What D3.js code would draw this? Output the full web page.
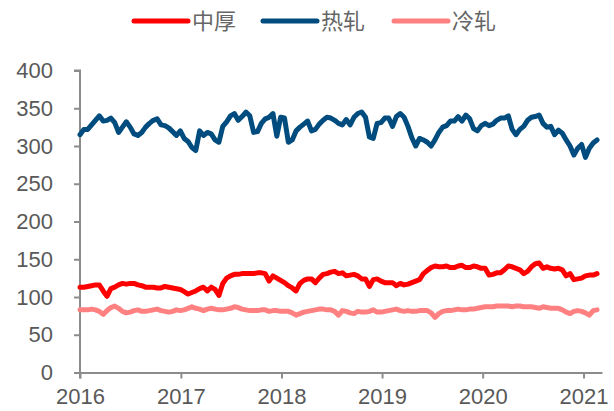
<!DOCTYPE html>
<html>
<head>
<meta charset="utf-8">
<script src="https://cdn.jsdelivr.net/npm/d3@7"></script>
<style>
  body { margin: 0; background: #fff; }
  svg { display: block; }
  .tick text { font-family: "Liberation Sans", Arial, sans-serif; }
</style>
</head>
<body>
<svg id="chart"></svg>
<script>
// Bi-weekly readings, starting first week of 2016
const startDate = new Date(2016, 0, 1);
const stepDays = 14;

const seriesNames = ["中厚", "热轧", "冷轧"];
const seriesColors = ["#ff0000", "#004c7e", "#ff8080"];

const zhonghou = [
  113, 113, 114, 115, 116, 116, 108, 101, 111, 113, 116, 118, 117, 118, 118, 116, 115, 113, 113, 113,
  112, 112, 114, 113, 112, 111, 110, 107, 104, 106, 108, 111, 113, 108, 113, 110, 102, 118, 125, 128,
  130, 130, 131, 131, 131, 131, 132, 132, 131, 121, 128, 125, 122, 119, 115, 112, 108, 118, 122, 124,
  124, 119, 125, 130, 131, 133, 134, 131, 132, 128, 129, 130, 128, 124, 124, 114, 123, 124, 121, 119,
  119, 119, 115, 118, 116, 117, 119, 121, 123, 131, 135, 139, 141, 140, 140, 141, 139, 139, 141, 142,
  139, 139, 141, 140, 138, 138, 129, 130, 132, 132, 136, 141, 140, 138, 136, 131, 134, 140, 144, 145,
  138, 140, 138, 137, 138, 136, 128, 131, 123, 124, 125, 128, 129, 129, 131
];

const rezha = [
  315, 322, 322, 328, 334, 340, 333, 334, 337, 331, 318, 325, 332, 325, 316, 314, 318, 325, 330, 334,
  336, 328, 327, 324, 319, 314, 320, 310, 306, 298, 294, 320, 314, 318, 316, 308, 305, 326, 332, 340,
  343, 334, 339, 345, 340, 318, 319, 330, 336, 338, 343, 313, 338, 337, 305, 308, 320, 325, 329, 333,
  320, 322, 329, 334, 338, 337, 334, 330, 328, 335, 328, 338, 343, 345, 338, 312, 310, 330, 331, 337,
  337, 326, 339, 343, 338, 326, 311, 300, 310, 308, 305, 300, 308, 318, 325, 327, 333, 333, 339, 333,
  341, 336, 323, 320, 327, 330, 327, 329, 334, 337, 337, 340, 322, 315, 322, 326, 334, 338, 339, 341,
  330, 325, 326, 315, 321, 317, 308, 300, 288, 297, 302, 285, 297, 304, 308
];

const lengzha = [
  83, 83, 83, 84, 83, 81, 77, 82, 86, 88, 85, 81, 79, 80, 82, 83, 81, 81, 82, 83,
  84, 82, 81, 80, 81, 83, 82, 83, 85, 87, 85, 84, 82, 84, 85, 84, 83, 83, 84, 85,
  87, 86, 84, 83, 82, 82, 82, 83, 83, 81, 82, 82, 81, 81, 81, 79, 76, 78, 80, 81,
  82, 83, 84, 84, 83, 83, 81, 76, 82, 81, 79, 78, 81, 80, 80, 81, 83, 80, 80, 81,
  82, 83, 84, 82, 81, 82, 81, 81, 82, 82, 82, 79, 73, 78, 81, 82, 82, 83, 84, 83,
  83, 84, 84, 85, 86, 87, 87, 87, 88, 88, 88, 88, 87, 88, 88, 87, 87, 87, 86, 85,
  87, 86, 85, 85, 85, 83, 80, 78, 81, 82, 81, 79, 76, 82, 83
];

const yTicks = [0, 50, 100, 150, 200, 250, 300, 350, 400];

const width = 614, height = 411;
const plotLeft = 80, plotRight = 602, plotTop = 70.5, plotBottom = 372.5;

const svg = d3.select("#chart")
  .attr("width", width)
  .attr("height", height);

const x = d3.scaleTime()
  .domain([startDate, new Date(2021, 2, 9)])
  .range([plotLeft, plotRight]);

const y = d3.scaleLinear()
  .domain([0, 400])
  .range([plotBottom, plotTop]);

const dateAt = i => d3.timeDay.offset(startDate, i * stepDays);

// Axes
const axisColor = "#8c8c8c";
const labelColor = "#595959";

const yAxis = svg.append("g")
  .attr("transform", `translate(${plotLeft},0)`)
  .call(d3.axisLeft(y).tickValues(yTicks).tickSize(6).tickPadding(21));

const xAxis = svg.append("g")
  .attr("transform", `translate(0,${plotBottom})`)
  .call(d3.axisBottom(x).ticks(d3.timeYear.every(1)).tickFormat(d3.timeFormat("%Y")).tickSize(6).tickSizeOuter(0).tickPadding(10));

[yAxis, xAxis].forEach(g => {
  g.selectAll("path, line").attr("stroke", axisColor).attr("stroke-width", 2);
  g.selectAll("text")
    .attr("fill", labelColor)
    .style("font-size", "22px");
});
yAxis.select(".domain").attr("d", `M-6,${plotTop}H0V${plotBottom + 6}`);

// Lines
const allSeries = [zhonghou, rezha, lengzha];
const line = d3.line()
  .x((d, i) => x(dateAt(i)))
  .y(d => y(d));

// draw order: blue, pink, red so red sits on top
[1, 2, 0].forEach(k => {
  svg.append("path")
    .datum(allSeries[k])
    .attr("fill", "none")
    .attr("stroke", seriesColors[k])
    .attr("stroke-width", 5)
    .attr("stroke-linejoin", "round")
    .attr("stroke-linecap", "round")
    .attr("d", line);
});

// Legend
const legendX = [134, 263, 394];
const legend = svg.append("g");
seriesNames.forEach((name, k) => {
  const g = legend.append("g").attr("transform", `translate(${legendX[k]},21)`);
  g.append("line")
    .attr("x1", 0).attr("x2", 54)
    .attr("stroke", seriesColors[k])
    .attr("stroke-width", 5)
    .attr("stroke-linecap", "round");
  g.append("text")
    .attr("x", 58)
    .attr("y", 8)
    .attr("fill", "#666")
    .style("font-family", "'Noto Sans CJK SC', sans-serif")
    .style("font-size", "22px")
    .text(name);
});
</script>
</body>
</html>
